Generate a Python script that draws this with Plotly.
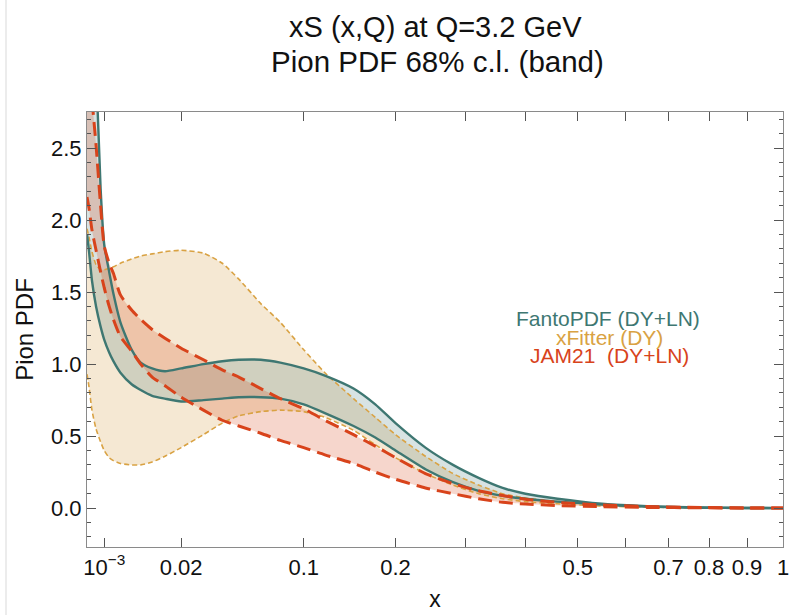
import numpy as np
import plotly.graph_objects as go

# x grid (momentum fraction)
x_vals = [5e-5, 1e-4, 2e-4, 4e-4, 7e-4, 0.001, 0.0015, 0.002, 0.003, 0.005, 0.007,
          0.01, 0.014, 0.02, 0.03, 0.04, 0.05, 0.065, 0.08, 0.1, 0.12, 0.15, 0.175,
          0.2, 0.24, 0.28, 0.32, 0.36, 0.4, 0.46, 0.55, 0.65, 0.78, 0.9, 1.0]

fanto_upper = [4.2, 3.9, 3.5, 3.05, 2.22, 1.83, 1.64, 1.49, 1.29, 1.10, 1.01,
               0.97, 0.95, 0.97, 1.00, 1.02, 1.03, 1.03, 1.01, 0.97, 0.92, 0.83, 0.72,
               0.59, 0.42, 0.30, 0.21, 0.14, 0.10, 0.065, 0.03, 0.013, 0.004, 0.001, 0.0]
fanto_lower = [1.90, 1.78, 1.58, 1.40, 1.26, 1.17, 1.08, 1.02, 0.94, 0.86, 0.82,
               0.78, 0.76, 0.74, 0.75, 0.76, 0.77, 0.77, 0.76, 0.72, 0.66, 0.57, 0.49,
               0.40, 0.27, 0.18, 0.12, 0.085, 0.065, 0.045, 0.025, 0.01, 0.003, 0.0005, 0.0]

xfit_upper = [1.94, 1.88, 1.78, 1.69, 1.655, 1.655, 1.665, 1.675, 1.70, 1.73, 1.75,
              1.765, 1.78, 1.79, 1.77, 1.70, 1.59, 1.42, 1.29, 1.10, 0.94, 0.76, 0.63,
              0.51, 0.36, 0.24, 0.16, 0.10, 0.07, 0.045, 0.025, 0.012, 0.004, 0.001, 0.0]
xfit_lower = [0.93, 0.84, 0.68, 0.55, 0.46, 0.40, 0.35, 0.33, 0.31, 0.30, 0.30,
              0.32, 0.36, 0.42, 0.51, 0.59, 0.64, 0.67, 0.68, 0.67, 0.63, 0.54, 0.44,
              0.35, 0.24, 0.16, 0.10, 0.065, 0.045, 0.03, 0.015, 0.007, 0.002, 0.0005, 0.0]

jam_upper = [3.7, 3.3, 2.85, 2.52, 2.10, 1.82, 1.70, 1.63, 1.48, 1.375, 1.31,
             1.24, 1.18, 1.11, 1.03, 0.96, 0.91, 0.83, 0.76, 0.69, 0.61, 0.51, 0.43,
             0.35, 0.24, 0.17, 0.12, 0.088, 0.062, 0.04, 0.022, 0.011, 0.004, 0.001, 0.0]
jam_lower = [2.16, 2.08, 1.93, 1.79, 1.64, 1.53, 1.40, 1.31, 1.19, 1.09, 1.00,
             0.91, 0.85, 0.77, 0.68, 0.61, 0.57, 0.52, 0.47, 0.42, 0.37, 0.31, 0.25,
             0.20, 0.14, 0.10, 0.065, 0.04, 0.028, 0.018, 0.01, 0.005, 0.002, 0.0005, 0.0]

x_ticks = [0.001, 0.02, 0.1, 0.2, 0.5, 0.7, 0.8, 0.9, 1.0]
x_tick_text = ["10<sup>\u22123</sup>", "0.02", "0.1", "0.2", "0.5", "0.7", "0.8", "0.9", "1"]
x_minor_ticks = [0.3, 0.4, 0.6]

series = [
    ("xFitter (DY)", xfit_upper, xfit_lower, "#d9a243", "rgba(222,180,110,0.30)", "5px,3px", 1.6),
    ("FantoPDF (DY+LN)", fanto_upper, fanto_lower, "#3e7772", "rgba(61,117,115,0.20)", "solid", 2.4),
    ("JAM21\u00a0 (DY+LN)", jam_upper, jam_lower, "#d8431b", "rgba(216,67,21,0.22)", "14px,7px", 3.0),
]

sx = np.sqrt(np.array(x_vals))
fig = go.Figure()

# fills first
for name, up, lo, lc, fc, dash, w in series:
    fig.add_trace(go.Scatter(x=sx, y=up, mode="lines", line=dict(width=0, shape="spline", smoothing=0.6),
                             showlegend=False, hoverinfo="skip"))
    fig.add_trace(go.Scatter(x=sx, y=lo, mode="lines", fill="tonexty", fillcolor=fc,
                             line=dict(width=0, shape="spline", smoothing=0.6),
                             showlegend=False, hoverinfo="skip"))
# lines on top
for name, up, lo, lc, fc, dash, w in series:
    for arr in (up, lo):
        fig.add_trace(go.Scatter(x=sx, y=arr, mode="lines",
                                 line=dict(color=lc, width=w, dash=dash, shape="spline", smoothing=0.6),
                                 showlegend=False, name=name))

font_family = "Liberation Sans, Arial, Helvetica, sans-serif"
L, R, T, B = 87, 7, 112, 68
W, H = 790, 615
ph = H - T - B

def py(p):
    return (H - B - p) / ph

def px(p):
    return (p - L) / (W - L - R)

anns = [
    dict(text="xS (x,Q) at Q=3.2 GeV", x=px(436), y=py(27), size=29, color="#111"),
    dict(text="Pion PDF 68% c.l. (band)", x=px(437), y=py(62), size=29.5, color="#111"),
    dict(text="FantoPDF (DY+LN)", x=px(608), y=py(318), size=21, color="#3e7772"),
    dict(text="xFitter (DY)", x=px(609), y=py(337), size=21, color="#d9a243"),
    dict(text="JAM21\u00a0 (DY+LN)", x=px(609), y=py(355), size=21, color="#d8431b"),
]
for a in anns:
    fig.add_annotation(text=a["text"], x=a["x"], y=a["y"], xref="paper", yref="paper",
                       showarrow=False, xanchor="center", yanchor="middle",
                       font=dict(size=a["size"], color=a["color"], family=font_family))

fig.add_shape(type="line", xref="paper", yref="paper", x0=px(6), x1=px(6), y0=py(0), y1=py(615),
              line=dict(color="#ececec", width=2))

axis_common = dict(showgrid=False, zeroline=False, showline=True, linecolor="#8a8a8a", linewidth=1.2,
                   mirror="ticks", ticks="inside", tickcolor="#555", tickwidth=1,
                   tickfont=dict(size=22, color="#111", family=font_family))

fig.update_xaxes(range=[float(np.sqrt(5e-5)), 1.0], tickmode="array",
                 tickvals=list(np.sqrt(np.array(x_ticks))), ticktext=x_tick_text,
                 minor=dict(tickvals=list(np.sqrt(np.array(x_minor_ticks))), ticks="inside",
                            ticklen=9, tickcolor="#555"),
                 ticklen=9, title=dict(text="x", font=dict(size=23, color="#111", family=font_family),
                                        standoff=12), **axis_common)
fig.update_yaxes(range=[-0.27, 2.75], tick0=0, dtick=0.5, tickformat=".1f", ticklen=9,
                 minor=dict(dtick=0.1, ticks="inside", ticklen=4, tickcolor="#555"),
                 title=dict(text="Pion PDF", font=dict(size=24, color="#111", family=font_family),
                            standoff=10), **axis_common)

fig.update_layout(width=W, height=H, margin=dict(l=L, r=R, t=T, b=B, autoexpand=False),
                  plot_bgcolor="white", paper_bgcolor="white", showlegend=False,
                  font=dict(family=font_family))

fig.write_html("out.html")
